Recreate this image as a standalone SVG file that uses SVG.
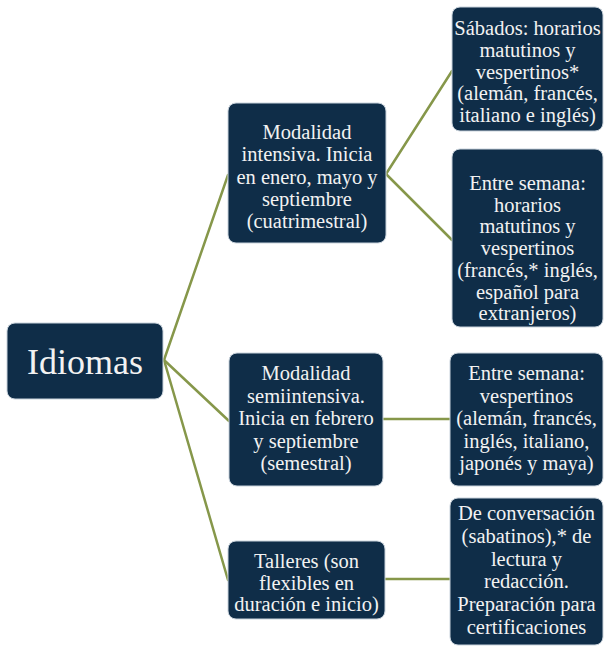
<svg xmlns="http://www.w3.org/2000/svg" width="604" height="655" viewBox="0 0 604 655">
<style>
.box{fill:#0f2d48;stroke:#c9d3dc;stroke-width:1}
.t{font-family:"Liberation Serif","Times New Roman",serif;font-size:20.5px;fill:#f2f2f2;text-anchor:middle}
.big{font-size:36px}
.c{stroke:#86974a;stroke-width:2.5;fill:none;stroke-linecap:round}
</style>
<rect width="604" height="655" fill="#ffffff"/>
<g id="connectors">
<line class="c" x1="164" y1="360" x2="228" y2="175"/>
<line class="c" x1="164" y1="360" x2="229" y2="421"/>
<line class="c" x1="164" y1="360" x2="228" y2="580"/>
<line class="c" x1="386" y1="174" x2="452" y2="71"/>
<line class="c" x1="386" y1="174" x2="452" y2="240"/>
<line class="c" x1="383" y1="419" x2="450" y2="419"/>
<line class="c" x1="385" y1="579" x2="450" y2="579"/>
</g>
<g id="idiomas">
<rect class="box" x="7" y="323" width="156" height="76" rx="8"/>
<text class="t big" x="85" y="374">Idiomas</text>
</g>
<g id="intensiva">
<rect class="box" x="228" y="103" width="158" height="140" rx="8"/>
<text class="t" x="307" y="139">Modalidad</text>
<text class="t" x="307" y="161.3">intensiva. Inicia</text>
<text class="t" x="307" y="183.6">en enero, mayo y</text>
<text class="t" x="307" y="205.9">septiembre</text>
<text class="t" x="307" y="228.2">(cuatrimestral)</text>
</g>
<g id="sabados">
<rect class="box" x="452" y="7" width="151" height="124" rx="8"/>
<text class="t" x="527.5" y="35">Sábados: horarios</text>
<text class="t" x="527.5" y="56.8">matutinos y</text>
<text class="t" x="527.5" y="78.6">vespertinos*</text>
<text class="t" x="527.5" y="100.4">(alemán, francés,</text>
<text class="t" x="527.5" y="122.2">italiano e inglés)</text>
</g>
<g id="entre-semana-1">
<rect class="box" x="452" y="149" width="151" height="178" rx="8"/>
<text class="t" x="527.5" y="190">Entre semana:</text>
<text class="t" x="527.5" y="211.7">horarios</text>
<text class="t" x="527.5" y="233.4">matutinos y</text>
<text class="t" x="527.5" y="255.1">vespertinos</text>
<text class="t" x="527.5" y="276.8">(francés,* inglés,</text>
<text class="t" x="527.5" y="298.5">español para</text>
<text class="t" x="527.5" y="320.2">extranjeros)</text>
</g>
<g id="semiintensiva">
<rect class="box" x="229" y="353" width="154" height="133" rx="8"/>
<text class="t" x="306" y="380">Modalidad</text>
<text class="t" x="306" y="402.5">semiintensiva.</text>
<text class="t" x="306" y="425">Inicia en febrero</text>
<text class="t" x="306" y="447.5">y septiembre</text>
<text class="t" x="306" y="470">(semestral)</text>
</g>
<g id="entre-semana-2">
<rect class="box" x="450" y="353" width="153" height="133" rx="8"/>
<text class="t" x="526.5" y="380">Entre semana:</text>
<text class="t" x="526.5" y="402.5">vespertinos</text>
<text class="t" x="526.5" y="425">(alemán, francés,</text>
<text class="t" x="526.5" y="447.5">inglés, italiano,</text>
<text class="t" x="526.5" y="470">japonés y maya)</text>
</g>
<g id="talleres">
<rect class="box" x="228" y="541" width="157" height="78" rx="8"/>
<text class="t" x="306.5" y="568">Talleres (son</text>
<text class="t" x="306.5" y="589.5">flexibles en</text>
<text class="t" x="306.5" y="611">duración e inicio)</text>
</g>
<g id="conversacion">
<rect class="box" x="450" y="498" width="153" height="147" rx="8"/>
<text class="t" x="526.5" y="520">De conversación</text>
<text class="t" x="526.5" y="542.8">(sabatinos),* de</text>
<text class="t" x="526.5" y="565.6">lectura y</text>
<text class="t" x="526.5" y="588.4">redacción.</text>
<text class="t" x="526.5" y="611.2">Preparación para</text>
<text class="t" x="526.5" y="634">certificaciones</text>
</g>
</svg>
